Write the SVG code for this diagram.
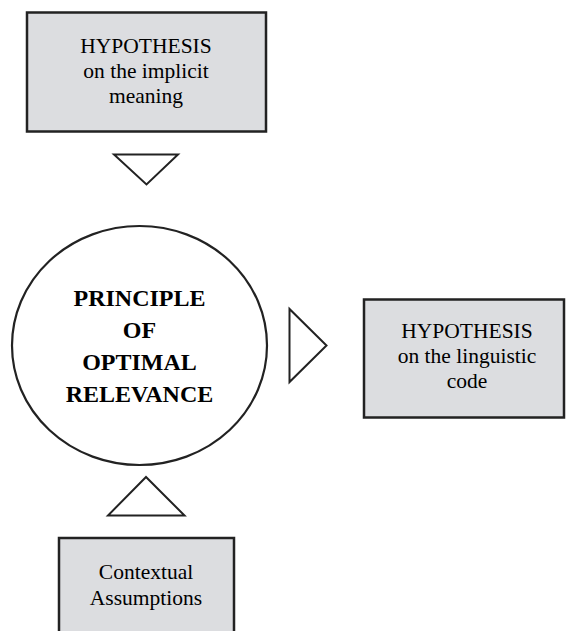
<svg xmlns="http://www.w3.org/2000/svg" width="566" height="631" viewBox="0 0 566 631">
<rect width="566" height="631" fill="#fff"/>
<g id="connectors" fill="#fff" stroke="#222" stroke-width="2">
<polygon points="114,154.5 178,154.5 146.5,184.5"/>
<polygon points="289.5,309 289.5,382 326.5,345.5"/>
<polygon points="146,477 108,515.5 184.5,515.5"/>
</g>
<g id="implicit">
<rect x="27" y="12.5" width="239" height="119" fill="#dcdde0" stroke="#222" stroke-width="2.5"/>
<text x="146" y="53" style="font-family:'Liberation Serif'" font-size="21.5" text-anchor="middle">HYPOTHESIS</text>
<text x="146" y="78" style="font-family:'Liberation Serif'" font-size="21.5" text-anchor="middle">on the implicit</text>
<text x="146" y="103" style="font-family:'Liberation Serif'" font-size="21.5" text-anchor="middle">meaning</text>
</g>
<g id="principle">
<ellipse cx="139.5" cy="345.5" rx="127.5" ry="119.5" fill="#fff" stroke="#222" stroke-width="2.2"/>
<text x="139.5" y="306" style="font-family:'Liberation Serif'" font-size="24" font-weight="bold" text-anchor="middle">PRINCIPLE</text>
<text x="139.5" y="338" style="font-family:'Liberation Serif'" font-size="24" font-weight="bold" text-anchor="middle">OF</text>
<text x="139.5" y="370" style="font-family:'Liberation Serif'" font-size="24" font-weight="bold" text-anchor="middle">OPTIMAL</text>
<text x="139.5" y="402" style="font-family:'Liberation Serif'" font-size="24" font-weight="bold" text-anchor="middle">RELEVANCE</text>
</g>
<g id="linguistic">
<rect x="364" y="299.5" width="200" height="118" fill="#dcdde0" stroke="#222" stroke-width="2.5"/>
<text x="467" y="338" style="font-family:'Liberation Serif'" font-size="21.5" text-anchor="middle">HYPOTHESIS</text>
<text x="467" y="363" style="font-family:'Liberation Serif'" font-size="21.5" text-anchor="middle">on the linguistic</text>
<text x="467" y="388" style="font-family:'Liberation Serif'" font-size="21.5" text-anchor="middle">code</text>
</g>
<g id="contextual">
<rect x="59" y="538" width="175" height="100" fill="#dcdde0" stroke="#222" stroke-width="2.5"/>
<text x="146" y="579" style="font-family:'Liberation Serif'" font-size="21.5" text-anchor="middle">Contextual</text>
<text x="146" y="605" style="font-family:'Liberation Serif'" font-size="21.5" text-anchor="middle">Assumptions</text>
</g>
</svg>
